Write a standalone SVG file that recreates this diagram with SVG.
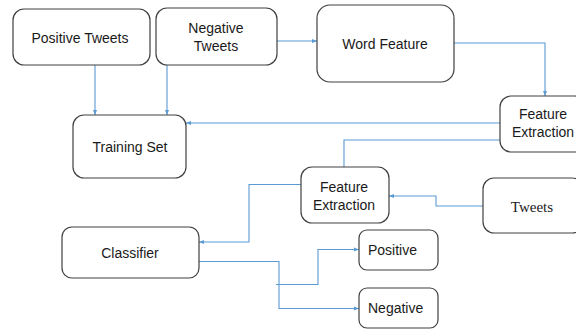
<svg xmlns="http://www.w3.org/2000/svg" width="576" height="329" viewBox="0 0 576 329">
<defs>
<marker id="ah" viewBox="0 0 10 10" refX="10" refY="5" markerWidth="5" markerHeight="5" orient="auto" markerUnits="userSpaceOnUse">
<path d="M0,1 L10,5 L0,9 z" fill="#5B9BD5"/>
</marker>
<style>
.box{fill:#fff;stroke:#404040;stroke-width:1.2}
.t{font-family:"Liberation Sans",Arial,sans-serif;font-size:14px;fill:#1a1a1a;text-anchor:middle}
.s{font-family:"Liberation Serif","Times New Roman",serif;font-size:15px;fill:#1a1a1a;text-anchor:middle}
.c{fill:none;stroke:#5B9BD5;stroke-width:1.1}
.a{marker-end:url(#ah)}
</style>
</defs>
<rect width="576" height="329" fill="#fff"/>
<g id="connectors">
<path class="c a" d="M95,65 V115"/>
<path class="c a" d="M167,65 V115"/>
<path class="c a" d="M277,41 H317"/>
<path class="c a" d="M454,43 H545 V96"/>
<path class="c a" d="M500,123 H186"/>
<path class="c" d="M500,140 H344 V167"/>
<path class="c a" d="M301,184.5 H249 V242 H199"/>
<path class="c a" d="M483,206 H436 V196 H389"/>
<path class="c a" d="M199,261.5 H279 V308.5 H359"/>
<path class="c a" d="M276,284.5 H318 V249.5 H359"/>
</g>
<g id="positive-tweets"><rect class="box" x="13" y="9" width="137" height="56" rx="11"/><text class="t" x="80" y="43">Positive Tweets</text></g>
<g id="negative-tweets"><rect class="box" x="156" y="8" width="121" height="57" rx="11"/><text class="t" x="216" y="33">Negative</text><text class="t" x="216" y="51">Tweets</text></g>
<g id="word-feature"><rect class="box" x="317" y="5" width="137" height="77" rx="13"/><text class="t" x="385" y="49">Word Feature</text></g>
<g id="feature-extraction-1"><rect class="box" x="500" y="96" width="86" height="56" rx="11"/><text class="t" x="543" y="119">Feature</text><text class="t" x="543" y="137">Extraction</text></g>
<g id="training-set"><rect class="box" x="73" y="115" width="113" height="63" rx="11"/><text class="t" x="130" y="152">Training Set</text></g>
<g id="feature-extraction-2"><rect class="box" x="301" y="167" width="88" height="56" rx="11"/><text class="t" x="344" y="191.5">Feature</text><text class="t" x="344" y="209.5">Extraction</text></g>
<g id="tweets"><rect class="box" x="483" y="178" width="100" height="55" rx="11"/><text class="s" x="532" y="212">Tweets</text></g>
<g id="classifier"><rect class="box" x="62" y="227" width="137" height="51" rx="10"/><text class="t" x="130" y="258">Classifier</text></g>
<g id="positive"><rect class="box" x="359" y="230" width="79" height="40" rx="8"/><text class="t" x="368" y="255" style="text-anchor:start">Positive</text></g>
<g id="negative"><rect class="box" x="359" y="288" width="79" height="40" rx="8"/><text class="t" x="368" y="313" style="text-anchor:start">Negative</text></g>
</svg>
